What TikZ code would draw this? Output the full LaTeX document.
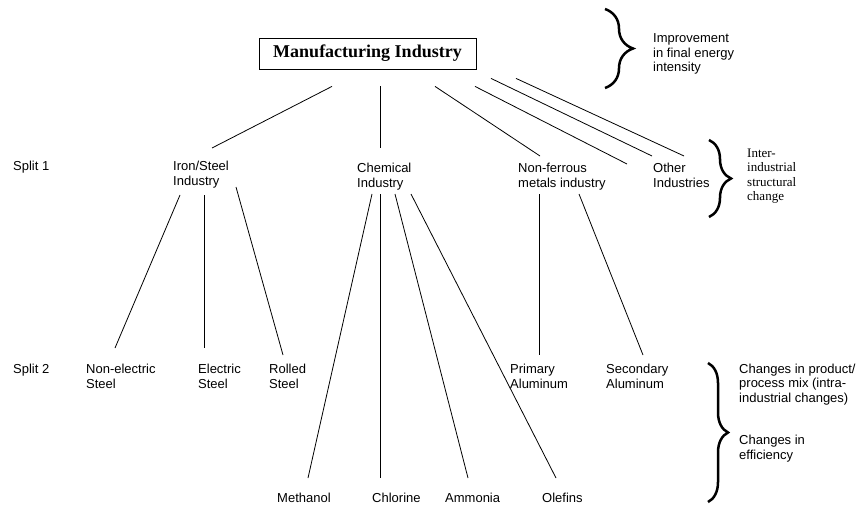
\documentclass[tikz,border=0pt]{standalone}
\usepackage{fontspec}
\setmainfont{Liberation Serif}
\setsansfont{Liberation Sans}
\usepackage{tikz}
\usetikzlibrary{decorations.pathreplacing}

\begin{document}
\begin{tikzpicture}[x=1pt,y=-1pt,
  lbl/.style={anchor=base west,inner sep=0pt,align=left,font=\sffamily\fontsize{13}{15}\selectfont},
  conn/.style={line width=.8pt},
  bigbrace/.style={line width=2.5pt,decorate,decoration={brace,amplitude=#1}}]
\useasboundingbox (0,0) rectangle (858,505);

\node[draw,line width=.8pt,minimum width=217pt,minimum height=31pt,inner sep=0pt,
  font=\bfseries\fontsize{18}{20}\selectfont] (mfg) at (367.5,53.5) {Manufacturing Industry};

% split 1 (nodes sit on the baseline of their last line)
\node[lbl] (split1) at (13,171) {Split 1};
\node[lbl] (iron) at (173,185) {Iron/Steel\\Industry};
\node[lbl] (chem) at (357,187) {Chemical\\Industry};
\node[lbl] (nonfer) at (518,187) {Non-ferrous\\metals industry};
\node[lbl] (other) at (653,187) {Other\\Industries};

% split 2
\node[lbl] (split2) at (13,373) {Split 2};
\node[lbl] (nonel) at (86,388) {Non-electric\\Steel};
\node[lbl] (elec) at (198,388) {Electric\\Steel};
\node[lbl] (rolled) at (269,388) {Rolled\\Steel};
\node[lbl] (primary) at (510,388) {Primary\\Aluminum};
\node[lbl] (secondary) at (606,388) {Secondary\\Aluminum};

\node[lbl] (methanol) at (277,502) {Methanol};
\node[lbl] (chlorine) at (372,502) {Chlorine};
\node[lbl] (ammonia) at (445,502) {Ammonia};
\node[lbl] (olefins) at (542,502) {Olefins};

% effects
\node[lbl,font=\sffamily\fontsize{13}{14.5}\selectfont] (improve) at (653,72) {Improvement\\in final energy\\intensity};
\node[lbl,font=\rmfamily\fontsize{13}{14.5}\selectfont] (inter) at (747,200.5) {Inter-\\industrial\\structural\\change};
\node[lbl,font=\sffamily\fontsize{13}{14.5}\selectfont] (mix) at (739,402) {Changes in product/\\process mix (intra-\\industrial changes)};
\node[lbl] (effic) at (739,459) {Changes in\\efficiency};

\draw[bigbrace=28] (605,9) -- (605,88);
\draw[bigbrace=22] (709,140) -- (709,217);
\draw[bigbrace=20] (708,363) -- (708,502);

% top level
\draw[conn] ([shift={(-35.5,17)}]mfg.south) -- ([shift={(39,-37)}]iron.base west);
\draw[conn] ([shift={(12.5,17)}]mfg.south) -- ([shift={(23,-39)}]chem.base west);
\draw[conn] ([shift={(67.5,17)}]mfg.south) -- ([shift={(22,-31)}]nonfer.base west);
\draw[conn] ([shift={(107.5,17)}]mfg.south) -- ([shift={(-26,-23)}]other.base west);
\draw[conn] ([shift={(123.5,9)}]mfg.south) -- ([shift={(-1,-31)}]other.base west);
\draw[conn] ([shift={(148.5,9)}]mfg.south) -- ([shift={(31,-31)}]other.base west);

% iron/steel
\draw[conn] ([shift={(7,10)}]iron.base west) -- ([shift={(29,-40)}]nonel.base west);
\draw[conn] ([shift={(31,10)}]iron.base west) -- ([shift={(6,-40)}]elec.base west);
\draw[conn] ([shift={(63,2)}]iron.base west) -- ([shift={(14,-33)}]rolled.base west);

% chemicals
\draw[conn] ([shift={(15,7)}]chem.base west) -- ([shift={(31,-24)}]methanol.base west);
\draw[conn] ([shift={(23,7)}]chem.base west) -- ([shift={(8,-24)}]chlorine.base west);
\draw[conn] ([shift={(38,7)}]chem.base west) -- ([shift={(23,-24)}]ammonia.base west);
\draw[conn] ([shift={(54,7)}]chem.base west) -- ([shift={(14,-24)}]olefins.base west);

% non-ferrous
\draw[conn] ([shift={(21.5,7)}]nonfer.base west) -- ([shift={(29.5,-33)}]primary.base west);
\draw[conn] ([shift={(61,7)}]nonfer.base west) -- ([shift={(37,-33)}]secondary.base west);
\end{tikzpicture}
\end{document}
